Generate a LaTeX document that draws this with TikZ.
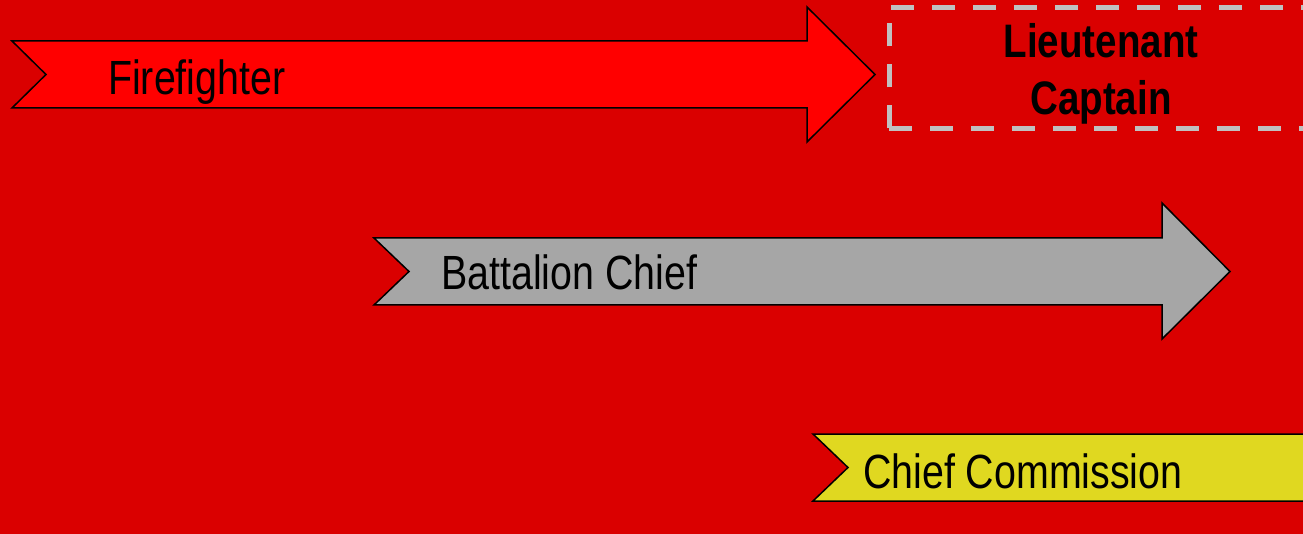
\documentclass[tikz,border=0pt]{standalone}
\usepackage{fontspec}
\newfontfamily\narrowfont[FakeStretch=0.82]{Liberation Sans}
\usetikzlibrary{positioning}
\definecolor{bgred}{RGB}{218,0,0}
\definecolor{ffred}{RGB}{255,0,0}
\definecolor{bcgray}{RGB}{166,166,166}
\definecolor{ccyellow}{RGB}{224,216,32}
\definecolor{dashgray}{RGB}{192,192,192}
\tikzset{
  rank arrow/.style={
    draw=black,
    line width=1.5pt,
    line join=miter
  },
  rank label/.style={
    anchor=base west,
    inner sep=0pt,
    font=\narrowfont\fontsize{48}{57}\selectfont
  },
  open rank/.style={
    draw=dashgray,
    line width=5pt,
    dash pattern=on 23pt off 18pt
  }
}

\begin{document}
\begin{tikzpicture}[x=1pt,y=-1pt]
\fill[bgred] (0,0) rectangle (1303,534);
\clip (0,0) rectangle (1303,534);
% ranks
\draw[rank arrow,fill=ffred] (12,41) -- (807,41) -- (807,7) -- (875,74.5) -- (807,142) -- (807,108) -- (12,108) -- (46,74.5) -- cycle;
\draw[rank arrow,fill=bcgray] (374,238) -- (1162,238) -- (1162,203) -- (1230,271.5) -- (1162,339) -- (1162,305) -- (374,305) -- (409,271.5) -- cycle;
\draw[rank arrow,fill=ccyellow] (813,434) -- (1330,434) -- (1330,501) -- (813,501) -- (848,467.5) -- cycle;
\draw[open rank] (889,128.5) -- (889,7.5) -- (1340,7.5) (889,128.5) -- (1340,128.5);
\node[rank label] (firefighter) at (108,95) {Firefighter};
\node[rank label] (battalion) at (441,290) {Battalion Chief};
\node[rank label] (commission) at (863,488) {Chief Commission};
\node[align=center,inner sep=0pt,anchor=base,font=\narrowfont\bfseries\fontsize{47}{57}\selectfont] (officer) at (1101,115) {Lieutenant\\Captain};
\end{tikzpicture}
\end{document}
